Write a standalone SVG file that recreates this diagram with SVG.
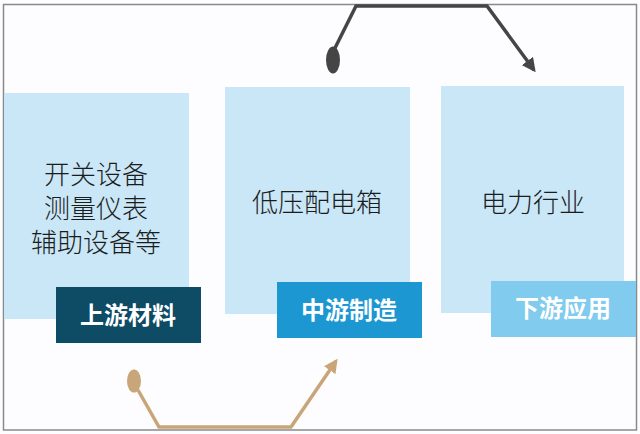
<svg xmlns="http://www.w3.org/2000/svg" width="640" height="434" viewBox="0 0 640 434">
<style>
.box{fill:#c9e7f7}
.txt{font-family:"Noto Sans CJK SC","Liberation Sans",sans-serif;font-size:26px;fill:#1c1c1c;text-anchor:middle;font-weight:300}
.lbl{font-family:"Noto Sans CJK SC","Liberation Sans",sans-serif;font-size:24px;fill:#ffffff;text-anchor:middle;font-weight:700}
</style>
<defs>
<marker id="ahDark" viewBox="0 0 10 10" refX="8" refY="5" markerWidth="4" markerHeight="4" orient="auto" markerUnits="strokeWidth">
<path d="M0,0 L10,5 L0,10 z" fill="#454545"/>
</marker>
<marker id="ahTan" viewBox="0 0 10 10" refX="8" refY="5" markerWidth="4" markerHeight="4" orient="auto" markerUnits="strokeWidth">
<path d="M0,0 L10,5 L0,10 z" fill="#c9a679"/>
</marker>
</defs>
<rect x="0" y="0" width="640" height="434" fill="#fdfcfe"/>
<rect x="3.5" y="4.5" width="633" height="425.5" fill="none" stroke="#8a8a8a" stroke-width="1.5"/>
<g id="node-upstream">
<rect class="box" x="4" y="93" width="185" height="226"/>
<text class="txt" x="96" y="184">开关设备</text>
<text class="txt" x="96" y="218">测量仪表</text>
<text class="txt" x="96" y="252">辅助设备等</text>
<rect x="56" y="287" width="145" height="56" fill="#0e4b65"/>
<text class="lbl" x="128" y="324">上游材料</text>
</g>
<g id="node-midstream">
<rect class="box" x="225" y="87" width="185" height="227"/>
<text class="txt" x="317" y="212">低压配电箱</text>
<rect x="277" y="282" width="145" height="56" fill="#1d97d2"/>
<text class="lbl" x="349" y="319">中游制造</text>
</g>
<g id="node-downstream">
<rect class="box" x="441" y="86" width="183" height="227"/>
<text class="txt" x="533" y="212">电力行业</text>
<rect x="491" y="281" width="145" height="56" fill="#80cbee"/>
<text class="lbl" x="563" y="317">下游应用</text>
</g>
<g id="connectors">
<ellipse cx="333" cy="60" rx="7" ry="13.5" fill="#454545"/>
<polyline points="334,50 356,6 487,6 534,70" fill="none" stroke="#454545" stroke-width="3.5" stroke-linejoin="miter" marker-end="url(#ahDark)"/>
<ellipse cx="134" cy="381" rx="7" ry="11.5" fill="#c9a679"/>
<polyline points="138,390 159,427 291,427 336,361" fill="none" stroke="#c9a679" stroke-width="3.5" stroke-linejoin="miter" marker-end="url(#ahTan)"/>
</g>
</svg>
